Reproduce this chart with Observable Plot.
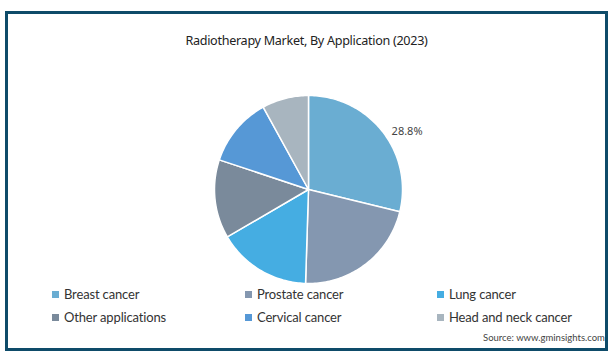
<!DOCTYPE html>
<html>
<head>
<meta charset="utf-8">
<script src="https://cdn.jsdelivr.net/npm/d3@7"></script>
<script src="https://cdn.jsdelivr.net/npm/@observablehq/plot@0.6"></script>
<style>
  html, body { margin: 0; padding: 0; background: #fff; }
  #wrap { position: relative; width: 613px; height: 357px; overflow: hidden; font-family: "Noto Sans", sans-serif; color: #333; }
  #frame { position: absolute; left: 5px; top: 11px; width: 603px; height: 340px; border: 3px solid #0e4b69; box-sizing: border-box; }
  #title { position: absolute; left: 0; width: 613px; top: 32px; text-align: center; font-size: 12.6px; color: #222; letter-spacing: -0.3px; }
  #chart { position: absolute; left: 0; top: 89px; }
  .leg { position: absolute; font-family: Lato, sans-serif; font-size: 13px; letter-spacing: -0.15px; color: #333; white-space: nowrap; line-height: 16px; }
  .sw { display: inline-block; width: 7px; height: 7px; margin-right: 5px; vertical-align: 1px; }
  #source { position: absolute; left: 483px; top: 332px; font-family: Lato, sans-serif; font-size: 9.5px; color: #444; }
</style>
</head>
<body>
<div id="wrap">
  <div id="frame"></div>
  <div id="title">Radiotherapy Market, By Application (2023)</div>
  <div id="chart"></div>
  <div id="legend"></div>
  <div id="source">Source: www.gminsights.com</div>
</div>
<script>
const categories = ["Breast cancer", "Prostate cancer", "Lung cancer", "Other applications", "Cervical cancer", "Head and neck cancer"];
const shares = [28.8, 21.7, 16.1, 13.5, 11.9, 8.0];
const colors = ["#6aadd2", "#8497b0", "#45ade2", "#7a8a9b", "#5698d6", "#a8b5bf"];
const labeled = ["28.8%", "", "", "", "", ""];

const pie = d3.pie().sort(null).value(d => d.value)(categories.map((name, i) => ({name, value: shares[i]})));

const pts = [];
pie.forEach(a => {
  const n = Math.max(2, Math.ceil((a.endAngle - a.startAngle) / 0.02));
  pts.push({name: a.data.name, x: 0, y: 0});
  for (let k = 0; k <= n; k++) {
    const t = a.startAngle + (a.endAngle - a.startAngle) * k / n;
    pts.push({name: a.data.name, x: Math.sin(t), y: Math.cos(t)});
  }
  pts.push({name: a.data.name, x: 0, y: 0});
});

const labels = pie.map((a, i) => {
  const m = (a.startAngle + a.endAngle) / 2;
  return {text: labeled[i], x: 1.07 * Math.sin(m), y: 1.07 * Math.cos(m)};
}).filter(d => d.text);

const chart = Plot.plot({
  width: 613,
  height: 200,
  marginLeft: 214,
  marginRight: 211,
  marginTop: 6,
  marginBottom: 6,
  x: {domain: [-1, 1], axis: null},
  y: {domain: [-1, 1], axis: null},
  color: {domain: categories, range: colors},
  style: {background: "transparent", overflow: "visible"},
  marks: [
    Plot.line(pts, {x: "x", y: "y", z: "name", fill: "name", stroke: "white", strokeWidth: 1.5, strokeLinejoin: "round", curve: "linear"}),
    Plot.text(labels, {x: "x", y: "y", text: "text", textAnchor: "start", dx: 4, dy: 4, fontSize: 11, fill: "#444", fontFamily: "Noto Sans"})
  ]
});
document.getElementById("chart").appendChild(chart);

const legend = document.getElementById("legend");
const colX = [52, 245, 437];
const rowY = [286, 309];
categories.forEach((c, i) => {
  const el = document.createElement("div");
  el.className = "leg";
  el.style.left = colX[i % 3] + "px";
  el.style.top = rowY[Math.floor(i / 3)] + "px";
  el.innerHTML = `<span class="sw" style="background:${colors[i]}"></span>${c}`;
  legend.appendChild(el);
});
</script>
</body>
</html>
